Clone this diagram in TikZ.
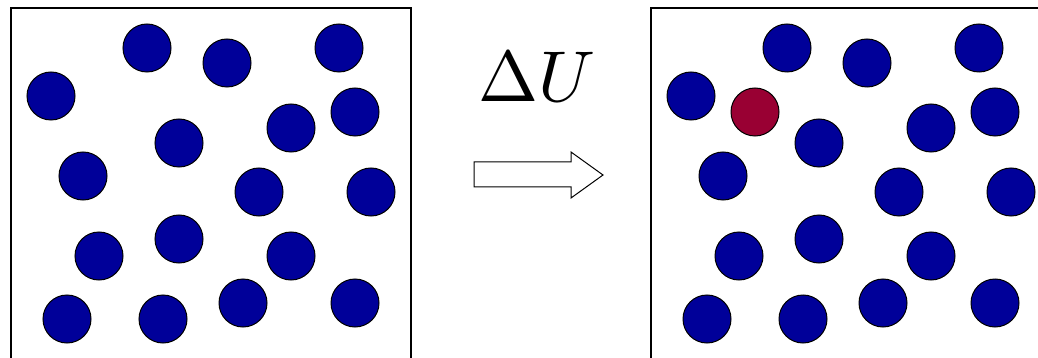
\documentclass[tikz,border=0pt]{standalone}
\usepackage{tikz}
\usetikzlibrary{positioning}
\definecolor{ballBlue}{HTML}{000099}
\definecolor{ballRed}{HTML}{990033}

\begin{document}
\begin{tikzpicture}[
    x=1pt, y=-1pt,
    box/.style={draw, line width=1.6pt},
    ball/.style={circle, draw, line width=1pt, fill=#1, inner sep=0pt, minimum size=48pt},
    ball/.default=ballBlue,
  ]
    \useasboundingbox (0,0) rectangle (1038,358);
    \clip (0,0) rectangle (1038,358);

    % Left box: before
    \draw[box] (11,370) -- (11,8) -- (411,8) -- (411,370);
    \foreach \bx/\by [count=\i] in {147/48, 227/63, 339/48, 51/96, 291/128, 355/112,
        179/143, 83/176, 259/192, 371/192, 99/256, 179/239, 291/256,
        67/319, 163/319, 243/303, 355/303} {
      \node[ball] (l\i) at (\bx,\by) {};
      \node[ball] (r\i) at (\bx+640,\by) {};
    }

    % Right box: after, one excited particle
    \draw[box] (651,370) -- (651,8) -- (1060,8);
    \node[ball=ballRed] (hot) at (755,112) {};

    % Energy change
    \node[scale=7.2, inner sep=0pt, anchor=base] (dU) at (537,102) {$\Delta U$};
    \draw[line width=1pt, fill=white] (474,162) -- (571,162) -- (571,152) -- (603,175)
      -- (571,198) -- (571,187) -- (474,187) -- cycle;
\end{tikzpicture}
\end{document}
